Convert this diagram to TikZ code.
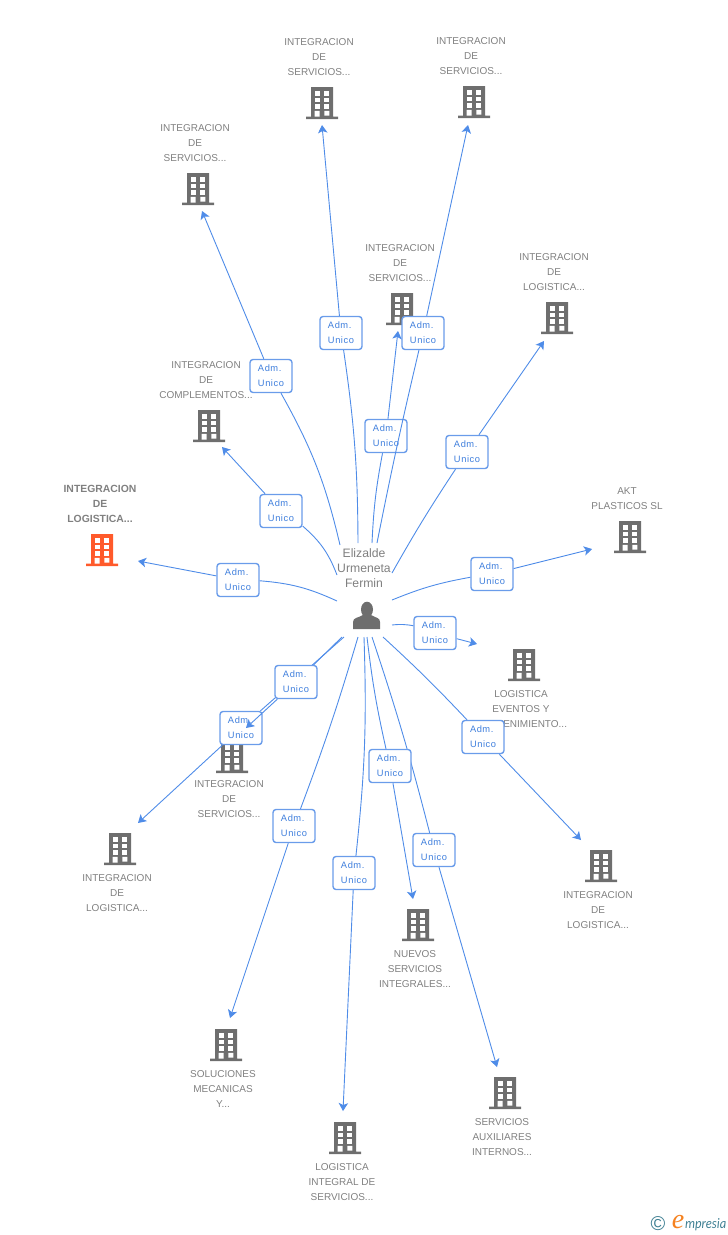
\documentclass[tikz,border=0pt]{standalone}
\usepackage{fontspec}
\setmainfont{Liberation Sans}
\newfontfamily\admfont[LetterSpace=6]{Liberation Sans}
\newfontfamily\logofont{Liberation Serif}
\newfontfamily\presiafont{Carlito}
\usetikzlibrary{arrows.meta}
\definecolor{linkblue}{HTML}{4F8CE8}
\definecolor{boxblue}{HTML}{6A9CEA}
\definecolor{textblue}{HTML}{3F7FDD}
\definecolor{labgrey}{HTML}{808080}
\definecolor{towergrey}{HTML}{6E6E6E}
\definecolor{towerorange}{HTML}{FF5A2B}
\definecolor{logoteal}{HTML}{3E7F92}
\definecolor{logoorange}{HTML}{F58220}
\tikzset{
  lab/.style={text=labgrey,align=center,inner sep=0pt,yshift=-0.2pt,font=\fontsize{10}{15}\selectfont},
  adm/.style={draw=boxblue,line width=1.4pt,fill=white,rounded corners=3pt,text=textblue,
    align=left,minimum width=42pt,minimum height=33pt,inner sep=0pt,
    font=\admfont\fontsize{9.3}{15}\selectfont},
  link/.style={color=linkblue,draw,line width=0.9pt,>={Stealth[length=8pt,width=9.5pt,inset=2pt]}},
  pics/tower/.style={code={
    \fill[#1] (-11,-16) rectangle (11,15) (-16,13.6) rectangle (16,16.2);
    \foreach \wx in {-7.3,2.3} \foreach \wy in {-12.2,-5.5,1.1}
      \fill[white] (\wx,\wy) rectangle ++(5,4.8);
    \fill[white] (2.3,7.8) rectangle ++(5,4.8) (-7.3,7.8) rectangle (-2.3,13.6);
  }},
  pics/tower/.default=towergrey
}
\begin{document}
\begin{tikzpicture}[x=1pt,y=-1pt]
  \useasboundingbox (0,0) rectangle (728,1235);
  % companies
  \node[lab] (n_a) at (319,57) {INTEGRACION\\DE\\SERVICIOS...};
  \pic at (322,103) {tower};
  \node[lab] (n_b) at (471,56) {INTEGRACION\\DE\\SERVICIOS...};
  \pic at (474,102) {tower};
  \node[lab] (n_c) at (195,143) {INTEGRACION\\DE\\SERVICIOS...};
  \pic at (198,189) {tower};
  \node[lab] (n_d) at (400,263) {INTEGRACION\\DE\\SERVICIOS...};
  \pic at (402,309) {tower};
  \node[lab] (n_e) at (554,272) {INTEGRACION\\DE\\LOGISTICA...};
  \pic at (557,318) {tower};
  \node[lab] (n_f) at (206,380) {INTEGRACION\\DE\\COMPLEMENTOS...};
  \pic at (209,426) {tower};
  \node[lab,font=\fontsize{10.4}{15}\selectfont\bfseries] (n_g) at (100,504) {INTEGRACION\\DE\\LOGISTICA...};
  \pic at (102,550) {tower=towerorange};
  \node[lab] (n_h) at (627,498) {AKT\\PLASTICOS SL};
  \pic at (630,537) {tower};
  \node[lab] (n_i) at (521,709) {LOGISTICA\\EVENTOS Y\\MANTENIMIENTO...};
  \pic at (524,665) {tower};
  \node[lab] (n_j) at (229,799) {INTEGRACION\\DE\\SERVICIOS...};
  \pic at (232,757) {tower};
  \node[lab] (n_k) at (117,893) {INTEGRACION\\DE\\LOGISTICA...};
  \pic at (120,849) {tower};
  \node[lab] (n_l) at (598,910) {INTEGRACION\\DE\\LOGISTICA...};
  \pic at (601,866) {tower};
  \node[lab] (n_m) at (415,969) {NUEVOS\\SERVICIOS\\INTEGRALES...};
  \pic at (418,925) {tower};
  \node[lab] (n_n) at (223,1089) {SOLUCIONES\\MECANICAS\\Y...};
  \pic at (226,1045) {tower};
  \node[lab] (n_o) at (342,1182) {LOGISTICA\\INTEGRAL DE\\SERVICIOS...};
  \pic at (345,1138) {tower};
  \node[lab] (n_p) at (502,1137) {SERVICIOS\\AUXILIARES\\INTERNOS...};
  \pic at (505,1093) {tower};
  % person
  \node[lab,font=\fontsize{12.2}{15}\selectfont] (n_z) at (364,568) {Elizalde\\Urmeneta\\Fermin};
  \fill[towergrey] (367,609.5) ellipse (6 and 7.8);
  \fill[towergrey] (353,629) -- (353,622) .. controls (353,617.5) and (358,618) .. (363,615)
    -- (371,615) .. controls (376,618) and (380,617.5) .. (380,622) -- (380,629) -- cycle;
  % free ends
  \coordinate (s_a) at (337,601);  \coordinate (e_a) at (138,561);
  \coordinate (s_b) at (337,575);  \coordinate (e_b) at (222,447);
  \coordinate (s_c) at (340,545);  \coordinate (e_c) at (202,211);
  \coordinate (s_d) at (358,543);  \coordinate (e_d) at (322,125);
  \coordinate (s_e) at (372,543);  \coordinate (e_e) at (398,331);
  \coordinate (s_f) at (377,543);  \coordinate (e_f) at (468,125);
  \coordinate (s_g) at (392,573);  \coordinate (e_g) at (544,341);
  \coordinate (s_h) at (392,600);  \coordinate (e_h) at (592,549);
  \coordinate (s_i) at (392,625);  \coordinate (e_i) at (477,644);
  \coordinate (s_j) at (383,637);  \coordinate (e_j) at (581,840);
  \coordinate (s_k) at (372,637);  \coordinate (e_k) at (497,1067);
  \coordinate (s_l) at (367,637);  \coordinate (e_l) at (413,899);
  \coordinate (s_m) at (364,637);  \coordinate (e_m) at (343,1111);
  \coordinate (s_n) at (358,637);  \coordinate (e_n) at (230,1018);
  \coordinate (s_o) at (344,637);  \coordinate (e_o) at (138,823);
  \coordinate (s_q) at (342,637);  \coordinate (e_q) at (246,728);
  % connectors
  \node[adm] (b_a) at (238,580) {Adm.\\Unico};
  \path[link] (s_a) edge [bend right=10] (b_a) (b_a) edge [->] (e_a);
  \node[adm] (b_b) at (281,511) {Adm.\\Unico};
  \path[link] (s_b) edge [bend right=14] (b_b) (b_b) edge [->] (e_b);
  \node[adm] (b_c) at (271,376) {Adm.\\Unico};
  \path[link] (s_c) edge [bend right=8] (b_c) (b_c) edge [->] (e_c);
  \node[adm] (b_d) at (341,333) {Adm.\\Unico};
  \path[link] (s_d) edge [bend right=4] (b_d) (b_d) edge [->] (e_d);
  \node[adm] (b_e) at (386,436) {Adm.\\Unico};
  \path[link] (s_e) edge [bend left=4] (b_e) (b_e) edge [->] (e_e);
  \node[adm] (b_f) at (423,333) {Adm.\\Unico};
  \path[link] (s_f) edge [bend left=1] (b_f) (b_f) edge [->] (e_f);
  \node[adm] (b_g) at (467,452) {Adm.\\Unico};
  \path[link] (s_g) edge [bend left=2] (b_g) (b_g) edge [->] (e_g);
  \node[adm] (b_h) at (492,574) {Adm.\\Unico};
  \path[link] (s_h) edge [bend left=6] (b_h) (b_h) edge [->] (e_h);
  \node[adm] (b_i) at (435,633) {Adm.\\Unico};
  \path[link] (s_i) edge [bend left=8] (b_i) (b_i) edge [->] (e_i);
  \node[adm] (b_j) at (483,737) {Adm.\\Unico};
  \path[link] (s_j) edge [bend left=2] (b_j) (b_j) edge [->] (e_j);
  \node[adm] (b_k) at (434,850) {Adm.\\Unico};
  \path[link] (s_k) edge [bend left=2] (b_k) (b_k) edge [->] (e_k);
  \node[adm] (b_l) at (390,766) {Adm.\\Unico};
  \path[link] (s_l) edge [bend right=3] (b_l) (b_l) edge [->] (e_l);
  \node[adm] (b_m) at (354,873) {Adm.\\Unico};
  \path[link] (s_m) edge [bend left=4] (b_m) (b_m) edge [->] (e_m);
  \node[adm] (b_n) at (294,826) {Adm.\\Unico};
  \path[link] (s_n) edge [bend left=2] (b_n) (b_n) edge [->] (e_n);
  \node[adm] (b_o) at (241,728) {Adm.\\Unico};
  \path[link] (s_o) edge (b_o) (b_o) edge [->] (e_o);
  \node[adm] (b_q) at (296,682) {Adm.\\Unico};
  \path[link] (s_q) edge (b_q) (b_q) edge [->] (e_q);
  % logo
  \node[inner sep=0pt,text=logoteal,font=\fontsize{20}{20}\selectfont] (l_c) at (658,1224) {\char"A9};
  \node[inner sep=0pt,text=logoorange,font=\logofont\itshape\fontsize{28}{28}\selectfont] (l_e) at (678,1222) {e};
  \node[inner sep=0pt,anchor=west,yscale=1.15,text=logoteal,font=\presiafont\itshape\fontsize{12.6}{15}\selectfont] (l_m) at (685,1225) {mpresia};
\end{tikzpicture}
\end{document}
